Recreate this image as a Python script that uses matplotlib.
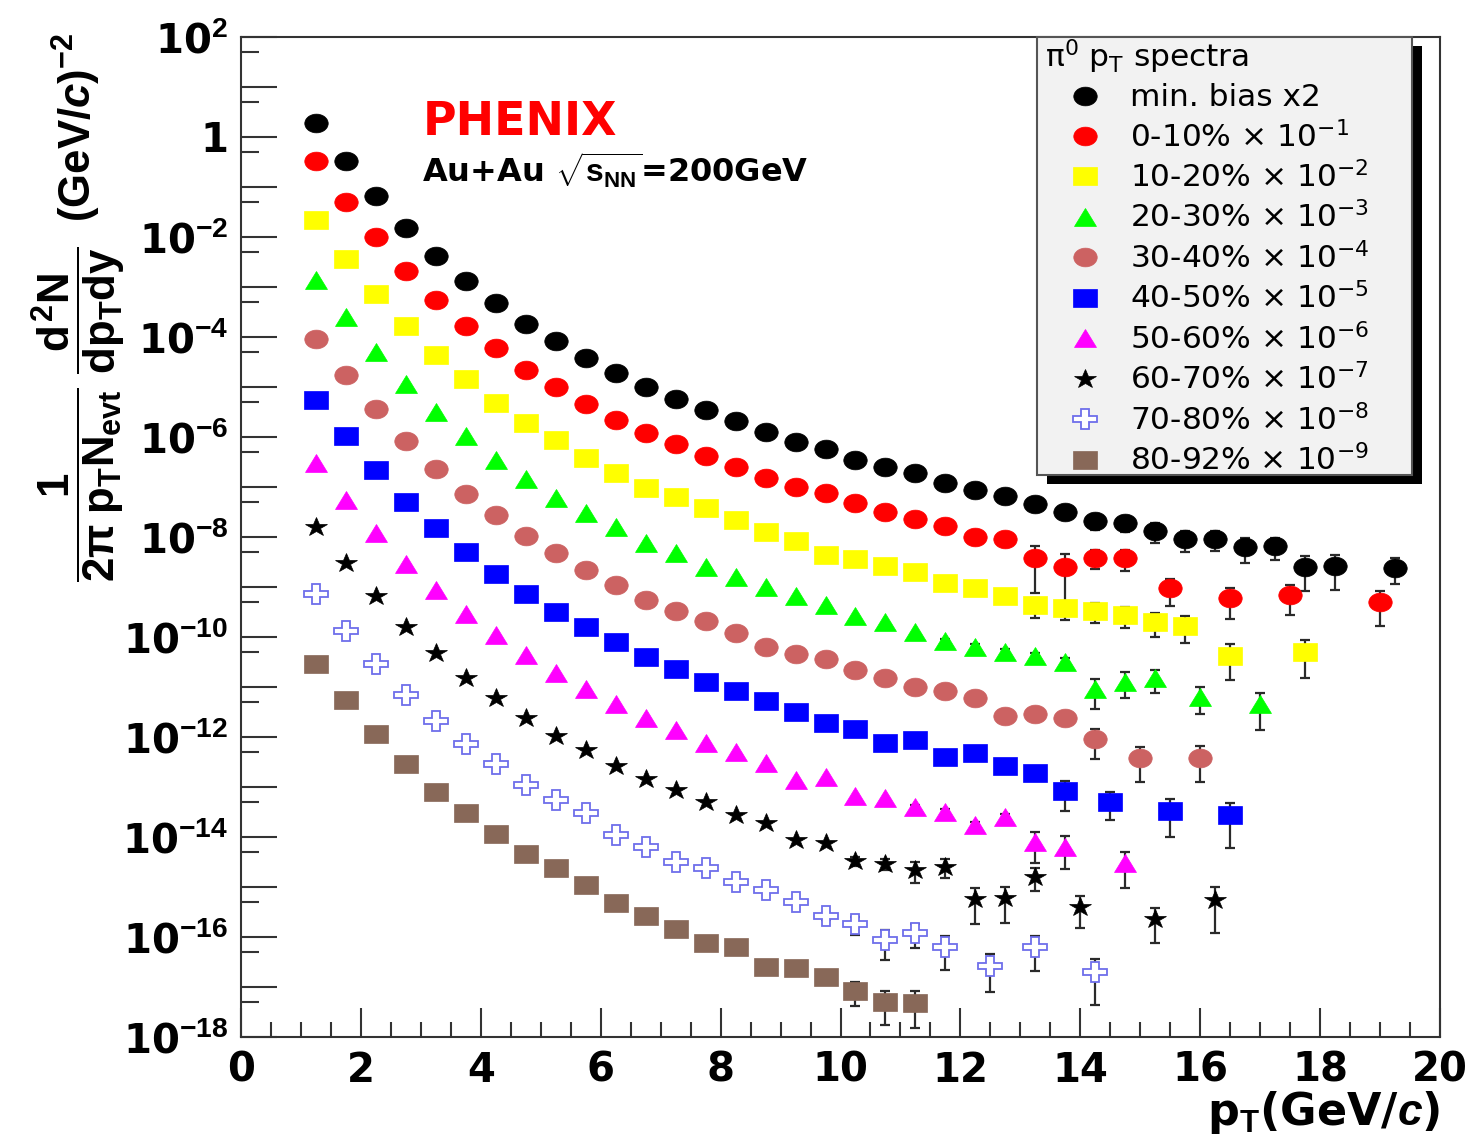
import numpy as np
import matplotlib
matplotlib.use('Agg')
import matplotlib.pyplot as plt
from matplotlib.markers import MarkerStyle
from matplotlib.transforms import Affine2D
from matplotlib.font_manager import FontProperties
from matplotlib.patches import Rectangle
from matplotlib.ticker import NullFormatter

plt.rcParams['font.family'] = ['DejaVu Sans']
plt.rcParams['mathtext.fontset'] = 'custom'
plt.rcParams['mathtext.rm'] = 'Liberation Sans:bold'
plt.rcParams['mathtext.it'] = 'Liberation Sans:bold'
plt.rcParams['mathtext.bf'] = 'Liberation Sans:bold'
plt.rcParams['mathtext.sf'] = 'Liberation Sans:bold:italic'

# ---------------- data ----------------
# min. bias x2
pt_mb = [1.25, 1.75, 2.25, 2.75, 3.25, 3.75, 4.25, 4.75, 5.25, 5.75, 6.25, 6.75, 7.25, 7.75,
         8.25, 8.75, 9.25, 9.75, 10.25, 10.75, 11.25, 11.75, 12.25, 12.75, 13.25, 13.75,
         14.25, 14.75, 15.25, 15.75, 16.25, 16.75, 17.25, 17.75, 18.25, 19.25]
y_mb = [1.93, 0.327, 0.066, 1.54e-2, 4.11e-3, 1.30e-3, 4.72e-4, 1.82e-4, 8.2e-5, 3.75e-5,
        1.88e-5, 9.86e-6, 5.75e-6, 3.47e-6, 2.12e-6, 1.24e-6, 7.94e-7, 5.68e-7, 3.52e-7, 2.48e-7,
        1.88e-7, 1.22e-7, 8.59e-8, 6.70e-8, 4.57e-8, 3.21e-8, 2.12e-8, 1.93e-8, 1.32e-8, 9.12e-9,
        9.12e-9, 6.22e-9, 6.52e-9, 2.48e-9, 2.67e-9, 2.43e-9]
e_mb = [0, 0, 0, 0, 0, 0, 0, 0, 0, 0, 0, 0, 0, 0, 0, 0, 0, 0, 0, 0, 0,
        0.1, 0.15, 0.15, 0.2, 0.25, 0.35, 0.35, 0.43, 0.44, 0.43, 0.52, 0.47, 0.67, 0.67, 0.53]

# 0-10% x 10^-1
pt_c0 = [1.25, 1.75, 2.25, 2.75, 3.25, 3.75, 4.25, 4.75, 5.25, 5.75, 6.25, 6.75, 7.25, 7.75,
         8.25, 8.75, 9.25, 9.75, 10.25, 10.75, 11.25, 11.75, 12.25, 12.75, 13.25, 13.75,
         14.25, 14.75, 15.5, 16.5, 17.5, 19.0]
y_c0 = [0.327, 0.0508, 9.86e-3, 2.12e-3, 5.42e-4, 1.68e-4, 5.94e-5, 2.16e-5, 1.0e-5, 4.63e-6,
        2.22e-6, 1.21e-6, 7.14e-7, 4.17e-7, 2.51e-7, 1.49e-7, 9.86e-8, 7.69e-8, 4.85e-8, 3.21e-8,
        2.32e-8, 1.66e-8, 9.86e-9, 9.12e-9, 3.75e-9, 2.55e-9, 3.85e-9, 3.75e-9, 9.42e-10, 5.94e-10,
        6.82e-10, 5.01e-10]
e_c0 = [0, 0, 0, 0, 0, 0, 0, 0, 0, 0, 0, 0, 0, 0, 0, 0, 0, 0, 0, 0, 0, 0,
        0.15, 0.15, 0.8, 0.8, 0.41, 0.44, 0.56, 0.61, 0.59, 0.67]

# 10-20% x 10^-2
pt_c1 = [1.25, 1.75, 2.25, 2.75, 3.25, 3.75, 4.25, 4.75, 5.25, 5.75, 6.25, 6.75, 7.25, 7.75,
         8.25, 8.75, 9.25, 9.75, 10.25, 10.75, 11.25, 11.75, 12.25, 12.75, 13.25, 13.75,
         14.25, 14.75, 15.25, 15.75, 16.5, 17.75]
y_c1 = [0.0219, 3.58e-3, 7.24e-4, 1.66e-4, 4.37e-5, 1.43e-5, 4.72e-6, 1.93e-6, 8.71e-7, 3.75e-7,
        1.88e-7, 9.55e-8, 6.22e-8, 3.75e-8, 2.16e-8, 1.28e-8, 8.43e-9, 4.37e-9, 3.68e-9, 2.59e-9,
        2.0e-9, 1.22e-9, 9.55e-10, 6.61e-10, 4.27e-10, 3.77e-10, 3.36e-10, 2.75e-10, 2.0e-10,
        1.66e-10, 4.23e-11, 5.08e-11]
e_c1 = [0, 0, 0, 0, 0, 0, 0, 0, 0, 0, 0, 0, 0, 0, 0, 0, 0, 0, 0, 0, 0,
        0.15, 0.15, 0.2, 0.43, 0.42, 0.42, 0.46, 0.49, 0.55, 0.68, 0.7]

# 20-30% x 10^-3
pt_c2 = [1.25, 1.75, 2.25, 2.75, 3.25, 3.75, 4.25, 4.75, 5.25, 5.75, 6.25, 6.75, 7.25, 7.75,
         8.25, 8.75, 9.25, 9.75, 10.25, 10.75, 11.25, 11.75, 12.25, 12.75, 13.25, 13.75,
         14.25, 14.75, 15.25, 16.0, 17.0]
y_c2 = [1.38e-3, 2.48e-4, 5.08e-5, 1.15e-5, 3.21e-6, 1.05e-6, 3.47e-7, 1.45e-7, 6.11e-8, 2.98e-8,
        1.55e-8, 7.76e-9, 4.72e-9, 2.55e-9, 1.61e-9, 9.86e-10, 6.61e-10, 4.31e-10, 2.63e-10,
        2.02e-10, 1.28e-10, 8.43e-11, 6.40e-11, 5.08e-11, 4.11e-11, 3.21e-11, 9.0e-12, 1.28e-11,
        1.49e-11, 6.40e-12, 4.51e-12]
e_c2 = [0, 0, 0, 0, 0, 0, 0, 0, 0, 0, 0, 0, 0, 0, 0, 0, 0, 0, 0, 0, 0,
        0.1, 0.12, 0.15, 0.15, 0.2, 0.6, 0.53, 0.49, 0.55, 0.7]

# 30-40% x 10^-4
pt_c3 = [1.25, 1.75, 2.25, 2.75, 3.25, 3.75, 4.25, 4.75, 5.25, 5.75, 6.25, 6.75, 7.25, 7.75,
         8.25, 8.75, 9.25, 9.75, 10.25, 10.75, 11.25, 11.75, 12.25, 12.75, 13.25, 13.75,
         14.25, 15.0, 16.0]
y_c3 = [9.0e-5, 1.74e-5, 3.58e-6, 8.32e-7, 2.32e-7, 7.35e-8, 2.75e-8, 1.06e-8, 4.70e-9, 2.20e-9,
        1.11e-9, 5.60e-10, 3.31e-10, 2.09e-10, 1.22e-10, 6.40e-11, 4.57e-11, 3.63e-11, 2.19e-11,
        1.53e-11, 1.01e-11, 8.32e-12, 6.11e-12, 2.67e-12, 2.88e-12, 2.40e-12, 9.0e-13, 3.75e-13,
        3.85e-13]
e_c3 = [0, 0, 0, 0, 0, 0, 0, 0, 0, 0, 0, 0, 0, 0, 0, 0, 0, 0, 0, 0,
        0.1, 0.1, 0.1, 0.2, 0.2, 0.25, 0.6, 0.66, 0.68]

# 40-50% x 10^-5
pt_c4 = [1.25, 1.75, 2.25, 2.75, 3.25, 3.75, 4.25, 4.75, 5.25, 5.75, 6.25, 6.75, 7.25, 7.75,
         8.25, 8.75, 9.25, 9.75, 10.25, 10.75, 11.25, 11.75, 12.25, 12.75, 13.25, 13.75,
         14.5, 15.5, 16.5]
y_c4 = [5.50e-6, 1.06e-6, 2.19e-7, 5.01e-8, 1.50e-8, 5.08e-9, 1.82e-9, 7.35e-10, 3.18e-10,
        1.56e-10, 7.87e-11, 3.98e-11, 2.29e-11, 1.28e-11, 8.43e-12, 5.30e-12, 3.21e-12, 1.88e-12,
        1.43e-12, 7.66e-13, 8.83e-13, 4.04e-13, 4.72e-13, 2.67e-13, 1.91e-13, 8.43e-14, 5.08e-14,
        3.31e-14, 2.75e-14]
e_c4 = [0, 0, 0, 0, 0, 0, 0, 0, 0, 0, 0, 0, 0, 0, 0, 0, 0, 0, 0, 0,
        0.1, 0.15, 0.15, 0.15, 0.2, 0.6, 0.56, 0.7, 0.78]

# 50-60% x 10^-6
pt_c5 = [1.25, 1.75, 2.25, 2.75, 3.25, 3.75, 4.25, 4.75, 5.25, 5.75, 6.25, 6.75, 7.25, 7.75,
         8.25, 8.75, 9.25, 9.75, 10.25, 10.75, 11.25, 11.75, 12.25, 12.75, 13.25, 13.75, 14.75]
y_c5 = [2.98e-7, 5.62e-8, 1.22e-8, 2.92e-9, 8.91e-10, 2.94e-10, 1.08e-10, 4.37e-11, 1.89e-11,
        8.95e-12, 4.59e-12, 2.40e-12, 1.38e-12, 7.69e-13, 5.08e-13, 2.98e-13, 1.38e-13, 1.61e-13,
        6.61e-14, 6.11e-14, 3.93e-14, 3.21e-14, 1.74e-14, 2.55e-14, 7.94e-15, 6.40e-15, 2.98e-15]
e_c5 = [0, 0, 0, 0, 0, 0, 0, 0, 0, 0, 0, 0, 0, 0, 0, 0, 0, 0, 0, 0,
        0.12, 0.15, 0.15, 0.15, 0.62, 0.65, 0.68]

# 60-70% x 10^-7
pt_c6 = [1.25, 1.75, 2.25, 2.75, 3.25, 3.75, 4.25, 4.75, 5.25, 5.75, 6.25, 6.75, 7.25, 7.75,
         8.25, 8.75, 9.25, 9.75, 10.25, 10.75, 11.25, 11.75, 12.25, 12.75, 13.25, 14.0,
         15.25, 16.25]
y_c6 = [1.55e-8, 3.02e-9, 6.49e-10, 1.56e-10, 4.74e-11, 1.53e-11, 6.03e-12, 2.44e-12, 1.05e-12,
        5.57e-13, 2.61e-13, 1.45e-13, 8.71e-14, 4.94e-14, 2.75e-14, 1.88e-14, 8.71e-15, 7.48e-15,
        3.36e-15, 2.88e-15, 2.19e-15, 2.55e-15, 5.75e-16, 5.94e-16, 1.61e-15, 4.04e-16, 2.29e-16,
        5.50e-16]
e_c6 = [0, 0, 0, 0, 0, 0, 0, 0, 0, 0, 0, 0, 0, 0, 0, 0, 0, 0,
        0.2, 0.25, 0.44, 0.41, 0.68, 0.68, 0.48, 0.62, 0.67, 0.78]

# 70-80% x 10^-8
pt_c7 = [1.25, 1.75, 2.25, 2.75, 3.25, 3.75, 4.25, 4.75, 5.25, 5.75, 6.25, 6.75, 7.25, 7.75,
         8.25, 8.75, 9.25, 9.75, 10.25, 10.75, 11.25, 11.75, 12.5, 13.25, 14.25]
y_c7 = [7.24e-10, 1.32e-10, 2.84e-11, 6.85e-12, 2.08e-12, 7.31e-13, 2.82e-13, 1.09e-13, 5.42e-14,
        3.06e-14, 1.11e-14, 6.40e-15, 3.21e-15, 2.37e-15, 1.28e-15, 8.71e-16, 4.94e-16, 2.63e-16,
        1.82e-16, 8.71e-17, 1.22e-16, 6.22e-17, 2.67e-17, 6.22e-17, 2.02e-17]
e_c7 = [0, 0, 0, 0, 0, 0, 0, 0, 0, 0, 0, 0, 0, 0, 0, 0, 0,
        0.15, 0.4, 0.6, 0.51, 0.65, 0.7, 0.66, 0.78]

# 80-92% x 10^-9
pt_c8 = [1.25, 1.75, 2.25, 2.75, 3.25, 3.75, 4.25, 4.75, 5.25, 5.75, 6.25, 6.75, 7.25, 7.75,
         8.25, 8.75, 9.25, 9.75, 10.25, 10.75, 11.25]
y_c8 = [2.82e-11, 5.42e-12, 1.16e-12, 2.87e-13, 7.94e-14, 3.06e-14, 1.13e-14, 4.57e-15, 2.42e-15,
        1.10e-15, 4.81e-16, 2.63e-16, 1.43e-16, 7.48e-17, 6.40e-17, 2.55e-17, 2.37e-17, 1.61e-17,
        8.43e-18, 5.08e-18, 4.85e-18]
e_c8 = [0, 0, 0, 0, 0, 0, 0, 0, 0, 0, 0, 0, 0, 0, 0, 0, 0,
        0.15, 0.5, 0.66, 0.69]

labels = ['min. bias x2',
          r'0-10% $\times$ 10$^{-1}$',
          r'10-20% $\times$ 10$^{-2}$',
          r'20-30% $\times$ 10$^{-3}$',
          r'30-40% $\times$ 10$^{-4}$',
          r'40-50% $\times$ 10$^{-5}$',
          r'50-60% $\times$ 10$^{-6}$',
          r'60-70% $\times$ 10$^{-7}$',
          r'70-80% $\times$ 10$^{-8}$',
          r'80-92% $\times$ 10$^{-9}$']

xtick_vals = [0, 2, 4, 6, 8, 10, 12, 14, 16, 18, 20]
xtick_labels = ['0', '2', '4', '6', '8', '10', '12', '14', '16', '18', '20']
ytick_vals = [1e-18, 1e-17, 1e-16, 1e-15, 1e-14, 1e-13, 1e-12, 1e-11, 1e-10, 1e-9, 1e-8,
              1e-7, 1e-6, 1e-5, 1e-4, 1e-3, 1e-2, 1e-1, 1e0, 1e1, 1e2]
ytick_labels = [r'10$^{-18}$', '', r'10$^{-16}$', '', r'10$^{-14}$', '', r'10$^{-12}$', '',
                r'10$^{-10}$', '', r'10$^{-8}$', '', r'10$^{-6}$', '', r'10$^{-4}$', '',
                r'10$^{-2}$', '', '1', '', r'10$^{2}$']
yminor_vals = [5e-18, 5e-17, 5e-16, 5e-15, 5e-14, 5e-13, 5e-12, 5e-11, 5e-10, 5e-9, 5e-8,
               5e-7, 5e-6, 5e-5, 5e-4, 5e-3, 5e-2, 5e-1, 5e0, 5e1]

# ---------------- styles ----------------
def mk(m, sx):
    return MarkerStyle(m, transform=Affine2D().scale(sx, 1.0))

series = [
    (pt_mb, y_mb, e_mb, mk('o', 1.25), 13.5, 'black', 'black', 0.5),
    (pt_c0, y_c0, e_c0, mk('o', 1.25), 13.5, '#FF0000', '#FF0000', 0.5),
    (pt_c1, y_c1, e_c1, mk('s', 1.25), 13.5, '#FFFF00', '#FFFF00', 0.5),
    (pt_c2, y_c2, e_c2, mk('^', 1.2), 13.5, '#00FF00', '#00FF00', 0.5),
    (pt_c3, y_c3, e_c3, mk('o', 1.25), 13.5, '#CC6262', '#CC6262', 0.5),
    (pt_c4, y_c4, e_c4, mk('s', 1.25), 13.5, '#0000FF', '#0000FF', 0.5),
    (pt_c5, y_c5, e_c5, mk('^', 1.2), 13.5, '#FF00FF', '#FF00FF', 0.5),
    (pt_c6, y_c6, e_c6, mk('*', 1.1), 15.0, 'black', 'black', 0.5),
    (pt_c7, y_c7, e_c7, mk('P', 1.2), 14.5, 'white', '#6E6EEB', 1.3),
    (pt_c8, y_c8, e_c8, mk('s', 1.25), 13.5, '#886858', '#886858', 0.5),
]

fig = plt.figure(figsize=(14.72, 11.43), dpi=100)
ax = fig.add_axes([241 / 1472, 1 - 1037 / 1143, 1199 / 1472, 1000 / 1143])
ax.set_yscale('log')
ax.set_xlim(0, 20)
ax.set_ylim(1e-18, 1e2)

handles = []
for (pt, y, e, marker, ms, fc, ec, mew), lab in zip(series, labels):
    pt = np.asarray(pt); y = np.asarray(y); e = np.asarray(e)
    m = e > 0
    if m.any():
        ax.errorbar(pt[m], y[m], yerr=e[m] * y[m], fmt='none', ecolor='#2a2a2a',
                    elinewidth=1.6, capsize=3.5, capthick=1.6, zorder=2)
    ln, = ax.plot(pt, y, linestyle='none', marker=marker, ms=ms, mfc=fc, mec=ec,
                  mew=mew, zorder=3, label=lab)
    handles.append(ln)

# ticks
ax.set_xticks(xtick_vals, labels=xtick_labels, fontweight='bold', fontsize=29)
ax.set_xticks([v / 2 for v in range(0, 41)], minor=True)
ax.set_yticks(ytick_vals, labels=ytick_labels, fontsize=29, fontweight='bold')
ax.set_yticks(yminor_vals, minor=True)
ax.yaxis.set_minor_formatter(NullFormatter())
ax.tick_params(axis='x', which='major', direction='in', length=21, width=1.5,
               color='#333333', pad=10, top=False)
ax.tick_params(axis='x', which='minor', direction='in', length=10.5, width=1.5,
               color='#333333', top=False)
ax.tick_params(axis='y', which='major', direction='in', length=26, width=1.5,
               color='#333333', pad=9, right=False)
ax.tick_params(axis='y', which='minor', direction='in', length=13, width=1.5,
               color='#333333', right=False)
for sp in ax.spines.values():
    sp.set_linewidth(1.5)
    sp.set_color('#333333')

# legend box with shadow
lx0 = (1037 - 241) / 1199
lw_ = (1412 - 1037) / 1199
ly0 = (1037 - 475) / 1000
lh_ = 1.0 - ly0
ax.add_patch(Rectangle((lx0 + 9.5 / 1199, ly0 - 9 / 1000), lw_, lh_, transform=ax.transAxes,
                       facecolor='black', edgecolor='none', zorder=4, clip_on=False))
ax.add_patch(Rectangle((lx0, ly0), lw_, lh_, transform=ax.transAxes,
                       facecolor='#F2F2F2', edgecolor='#555555', lw=1.5, zorder=4.5,
                       clip_on=False))
legprop = FontProperties(family='DejaVu Sans', size=22.5, math_fontfamily='dejavusans')
leg = ax.legend(handles=handles, loc='upper left',
                bbox_to_anchor=((1045 - 241) / 1199, 1.0), bbox_transform=ax.transAxes,
                frameon=False, prop=legprop, numpoints=1,
                title='π$^{0}$ p$_{\\mathrm{T}}$ spectra',
                title_fontproperties=legprop, alignment='left',
                handlelength=2.56, handletextpad=0.16, labelspacing=0.255,
                borderpad=0, borderaxespad=0)
leg.set_zorder(5)

# texts
fig.text(423 / 1472, 1 - 135 / 1143, 'PHENIX', color='#FF0000', fontsize=33,
         fontweight='bold', ha='left', va='baseline')
fig.text(422 / 1472, 1 - 183 / 1143, r'Au+Au $\sqrt{s_{NN}}$=200GeV', fontsize=23,
         fontweight='bold', ha='left', va='baseline')
fig.text(78 / 1472, 1 - 33 / 1143,
         r'$\dfrac{1}{2\pi\;p_{T}N_{evt}}\;\dfrac{d^{2}N}{dp_{T}dy}\;\;(GeV/\mathsf{c})^{-2}$',
         rotation=90, ha='center', va='top', fontsize=31.5)
fig.text(1440 / 1472, 1 - 1125 / 1143, r'p$_{T}$(GeV/$\mathsf{c}$)', ha='right',
         va='baseline', fontsize=32, fontweight='bold')

fig.savefig('out.png', dpi=100)
